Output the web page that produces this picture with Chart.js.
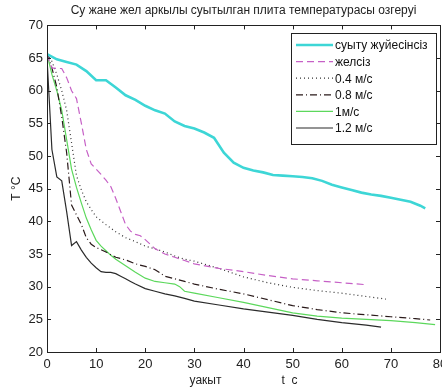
<!DOCTYPE html>
<html>
<head>
<meta charset="utf-8">
<script src="https://cdn.jsdelivr.net/npm/chart.js@4"></script>
<style>
body { margin: 0; background: #fff; }
#wrap { width: 442px; height: 388px; }
</style>
</head>
<body>
<div id="wrap"><canvas id="myChart" width="442" height="388"></canvas></div>
<script>
// data
const labels = ["суыту жуйесінсіз", "желсіз", "0.4 м/с", "0.8 м/с", "1м/с", "1.2 м/с"];

const timeNoCool = [0,2,4,6,8,10,12,14,16,18,20,22,24,26,28,30,32,34,36,38,40,42,44,46,48,50,52,54,56,58,60,62,64,66,68,70,72,74,76,77];
const tempNoCool = [65.6,64.8,64.4,64.0,63.0,61.6,61.6,60.5,59.3,58.6,57.7,57.0,56.5,55.3,54.6,54.2,53.6,52.8,50.5,49.0,48.2,47.8,47.5,47.1,47.0,46.9,46.8,46.6,46.2,45.6,45.2,44.8,44.4,44.1,43.9,43.6,43.3,43.0,42.4,42.0];

const timeNoWind = [0,1,2,3,4,5,6,7,8,9,10,11,12,13,14,15,16,17,18,19,20,22,24,26,28,30,35,40,45,50,55,60,65];
const tempNoWind = [65.5,63.5,63.4,63.4,62,60,58.8,55,51,48.8,48,47.2,46.3,45.3,43.5,41.5,39.5,38.5,38,37.8,37.2,35.8,35.0,34.5,34.0,33.5,32.8,32.3,31.7,31.2,30.9,30.6,30.3];

const time04 = [0,1,2,3,4,5,6,7,8,9,10,12,14,16,18,20,22,24,26,28,30,35,40,45,50,55,60,65,69];
const temp04 = [65.6,64.5,62.5,60,57,52,47,44.8,43,41.8,40.7,39.5,38.4,37.5,36.9,36.2,35.8,35.3,34.7,34.2,33.9,32.8,31.5,30.6,29.9,29.4,29.0,28.5,28.1];

const time08 = [0,1,2,3,4,5,6,7,8,9,10,12,14,16,18,20,22,24,26,28,30,35,40,45,50,55,60,65,70,75,78];
const temp08 = [65.8,63.5,60.5,56,50.5,42.5,41,39.5,37.5,36.5,36.0,35.3,34.5,34.1,33.5,33.1,32.6,31.6,31.2,30.8,30.4,29.6,28.9,28.0,27.1,26.5,26.0,25.7,25.4,25.1,24.9];

const time10 = [0,1,2,3,4,5,6,7,8,9,10,11,12,13,14,16,18,20,22,24,26,27,28,30,35,40,45,50,55,60,65,70,75,79];
const temp10 = [65.6,62.5,60,57,52.5,48,45.2,42.8,40.5,38.7,37.1,36.2,35.5,34.8,34.2,33.2,32.2,31.3,30.8,30.6,30.4,30.0,29.3,29.0,28.3,27.6,26.8,26.0,25.5,25.2,25.0,24.8,24.5,24.2];

const time12 = [0,1,2,3,4,5,6,7,8,9,10,11,12,13,14,15,16,17,18,20,22,24,26,28,30,35,40,45,50,55,60,65,68];
const temp12 = [65,51,46.8,46.2,41.5,36.3,36.9,35.6,34.5,33.6,32.9,32.3,32.2,32.2,32.0,31.6,31.2,30.8,30.4,29.7,29.3,28.9,28.6,28.2,27.8,27.2,26.6,26.1,25.6,25.0,24.5,24.1,23.8];

const xTicks = [0,10,20,30,40,50,60,70,80];
const yTicks = [20,25,30,35,40,45,50,55,60,65,70];

function pts(t, v) {
    return t.map((x, i) => ({ x: x, y: v[i] }));
}

// box round the plot, ticks pointing inward and legend inside (matlab look)
const boxPlugin = {
    id: 'box',
    afterDraw(chart) {
        const ctx = chart.ctx;
        const a = chart.chartArea;
        const xs = chart.scales.x;
        const ys = chart.scales.y;
        ctx.save();
        ctx.strokeStyle = '#222';
        ctx.lineWidth = 1;
        ctx.setLineDash([]);
        ctx.beginPath();
        xTicks.forEach(t => {
            const px = Math.round(xs.getPixelForValue(t)) + 0.5;
            ctx.moveTo(px, a.bottom); ctx.lineTo(px, a.bottom - 4);
            ctx.moveTo(px, a.top); ctx.lineTo(px, a.top + 4);
        });
        yTicks.forEach(t => {
            const py = Math.round(ys.getPixelForValue(t)) + 0.5;
            ctx.moveTo(a.left, py); ctx.lineTo(a.left + 4, py);
            ctx.moveTo(a.right, py); ctx.lineTo(a.right - 4, py);
        });
        ctx.stroke();
        ctx.strokeRect(Math.round(a.left) + 0.5, Math.round(a.top) + 0.5, Math.round(a.right - a.left), Math.round(a.bottom - a.top));

        // legend
        const lx = 291, ly = 33, lw = 145, lh = 111;
        ctx.fillStyle = '#fff';
        ctx.fillRect(lx, ly, lw, lh);
        ctx.strokeStyle = '#222';
        ctx.strokeRect(lx + 0.5, ly + 0.5, lw, lh);
        ctx.font = '12px "Liberation Sans", Arial, sans-serif';
        ctx.textBaseline = 'middle';
        chart.data.datasets.forEach((ds, i) => {
            const y = ly + 12 + i * 16.6;
            ctx.strokeStyle = ds.borderColor;
            ctx.lineWidth = ds.borderWidth;
            ctx.setLineDash(ds.borderDash || []);
            ctx.beginPath();
            ctx.moveTo(lx + 5, y);
            ctx.lineTo(lx + 42, y);
            ctx.stroke();
            ctx.fillStyle = '#111';
            ctx.fillText(ds.label, lx + 44, y + 1);
        });
        ctx.restore();
    }
};

const ctx = document.getElementById('myChart').getContext('2d');
const myChart = new Chart(ctx, {
    type: 'line',
    data: {
        datasets: [
            { label: labels[0], data: pts(timeNoCool, tempNoCool), borderColor: '#3dd6d6', borderWidth: 2.6 },
            { label: labels[1], data: pts(timeNoWind, tempNoWind), borderColor: '#c660c6', borderWidth: 1.2, borderDash: [7, 4] },
            { label: labels[2], data: pts(time04, temp04), borderColor: '#333', borderWidth: 1.2, borderDash: [1, 3] },
            { label: labels[3], data: pts(time08, temp08), borderColor: '#2a1a1a', borderWidth: 1.2, borderDash: [7, 3, 1, 3] },
            { label: labels[4], data: pts(time10, temp10), borderColor: '#5cd85c', borderWidth: 1.2 },
            { label: labels[5], data: pts(time12, temp12), borderColor: '#2b2b2b', borderWidth: 1.2 }
        ]
    },
    options: {
        responsive: false,
        animation: false,
        elements: { point: { radius: 0 }, line: { tension: 0 } },
        layout: { padding: { left: 0, right: 2, top: 0, bottom: 0 } },
        plugins: {
            legend: { display: false },
            tooltip: { enabled: false },
            title: {
                display: true,
                fullSize: false,
                text: 'Су жане жел аркылы суытылган плита температурасы озгеруі',
                color: '#222',
                font: { family: '"Liberation Sans", Arial, sans-serif', size: 12, weight: 'normal' },
                padding: { top: 3, bottom: 8 }
            }
        },
        scales: {
            x: {
                type: 'linear',
                min: 0,
                max: 80,
                afterBuildTicks: s => { s.ticks = xTicks.map(v => ({ value: v })); },
                afterFit: s => { s.height = 36; s.paddingRight = 0; },
                grid: { display: false, drawTicks: false },
                border: { display: false },
                ticks: { color: '#222', padding: 5, font: { family: '"Liberation Sans", Arial, sans-serif', size: 13 } },
                title: {
                    display: true,
                    text: 'уакыт                  t  c',
                    color: '#222',
                    padding: { top: 0, bottom: 0 },
                    font: { family: '"Liberation Sans", Arial, sans-serif', size: 12 }
                }
            },
            y: {
                min: 20,
                max: 70,
                afterBuildTicks: s => { s.ticks = yTicks.map(v => ({ value: v })); },
                afterFit: s => { s.width = 47; },
                grid: { display: false, drawTicks: false },
                border: { display: false },
                ticks: { color: '#222', padding: 4, font: { family: '"Liberation Sans", Arial, sans-serif', size: 13 } },
                title: {
                    display: true,
                    text: 'T °C',
                    color: '#222',
                    padding: { top: 9, bottom: 4 },
                    font: { family: '"Liberation Sans", Arial, sans-serif', size: 12 }
                }
            }
        }
    },
    plugins: [boxPlugin]
});
</script>
</body>
</html>
